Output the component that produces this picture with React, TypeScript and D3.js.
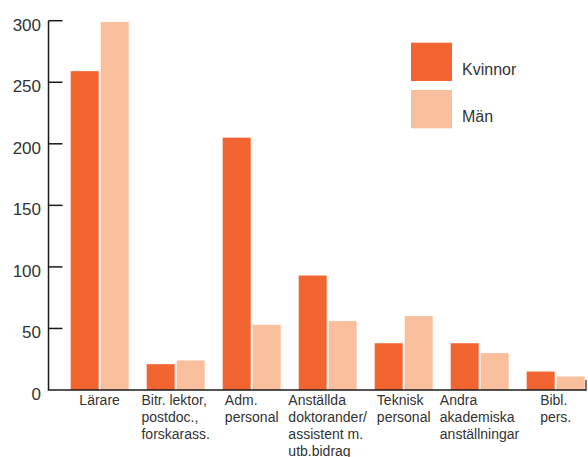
import React, { useRef, useEffect } from 'react';
import * as d3 from 'd3';

const categories = ['Lärare', 'Bitr', 'Adm', 'Anställda', 'Teknisk', 'Andra', 'Bibl'];
const categoryLabels = [
  ['Lärare'],
  ['Bitr. lektor,', 'postdoc.,', 'forskarass.'],
  ['Adm.', 'personal'],
  ['Anställda', 'doktorander/', 'assistent m.', 'utb.bidrag'],
  ['Teknisk', 'personal'],
  ['Andra', 'akademiska', 'anställningar'],
  ['Bibl.', 'pers.'],
];
const kvinnor = [259, 21, 205, 93, 38, 38, 15];
const man = [299, 24, 53, 56, 60, 30, 11];
const seriesNames = ['Kvinnor', 'Män'];
const yTicks = [0, 50, 100, 150, 200, 250, 300];

const COLORS = ['#f26531', '#f9be9c'];
const TEXT = '#333333';

const App: React.FC = () => {
  const svgRef = useRef<SVGSVGElement>(null);

  useEffect(() => {
    if (!svgRef.current) return;
    const svg = d3.select(svgRef.current);
    svg.selectAll('*').remove();

    const axisX = 48.5;
    const axisRight = 586;

    const y = d3.scaleLinear().domain([0, 300]).range([390, 20.7]);
    const x0 = d3.scaleBand<string>()
      .domain(categories)
      .range([70.7, 584.7])
      .paddingInner(18 / 76)
      .paddingOuter(0);
    const x1 = d3.scaleBand<string>()
      .domain(seriesNames)
      .range([0, x0.bandwidth()])
      .paddingInner(2 / 30)
      .paddingOuter(0);

    const data = categories.map((c, i) => ({ cat: c, values: [kvinnor[i], man[i]] }));

    // bars
    const groups = svg.append('g')
      .selectAll('g')
      .data(data)
      .join('g')
      .attr('transform', d => `translate(${x0(d.cat)},0)`);

    groups.selectAll('rect')
      .data(d => d.values.map((v, j) => ({ name: seriesNames[j], v, j })))
      .join('rect')
      .attr('x', d => x1(d.name)!)
      .attr('width', x1.bandwidth())
      .attr('y', d => y(d.v))
      .attr('height', d => y(0) - y(d.v))
      .attr('fill', d => COLORS[d.j]);

    // y axis
    svg.append('line')
      .attr('x1', axisX).attr('x2', axisX)
      .attr('y1', y(300)).attr('y2', y(0))
      .attr('stroke', '#1a1a1a').attr('stroke-width', 1.5);

    svg.append('g')
      .selectAll('line')
      .data(yTicks.filter(t => t > 0))
      .join('line')
      .attr('x1', axisX).attr('x2', 62.5)
      .attr('y1', d => y(d)).attr('y2', d => y(d))
      .attr('stroke', '#1a1a1a').attr('stroke-width', 1.5);

    svg.append('g')
      .selectAll('text')
      .data(yTicks)
      .join('text')
      .attr('x', 41)
      .attr('y', d => y(d) + 10)
      .attr('text-anchor', 'end')
      .attr('font-family', 'Liberation Sans, Arial, sans-serif')
      .attr('font-size', 17)
      .attr('fill', TEXT)
      .text(d => d);

    // baseline
    svg.append('line')
      .attr('x1', axisX - 0.75).attr('x2', axisRight)
      .attr('y1', y(0)).attr('y2', y(0))
      .attr('stroke', '#1a1a1a').attr('stroke-width', 1.5);
    svg.append('line')
      .attr('x1', axisRight).attr('x2', axisRight)
      .attr('y1', y(0) - 10).attr('y2', y(0) + 0.75)
      .attr('stroke', '#1a1a1a').attr('stroke-width', 1.2);

    // category labels
    categories.forEach((c, i) => {
      const center = x0(c)! + x0.bandwidth() / 2;
      const t = svg.append('text')
        .attr('font-family', 'Liberation Sans, Arial, sans-serif')
        .attr('font-size', 14)
        .attr('fill', TEXT);
      categoryLabels[i].forEach((line, k) => {
        t.append('tspan')
          .attr('x', 0)
          .attr('y', 405 + k * 17)
          .text(line);
      });
      const w = (t.node() as SVGTextElement).getBBox().width;
      t.attr('transform', `translate(${center - w / 2},0)`);
    });

    // legend
    const legend = svg.append('g');
    seriesNames.forEach((name, j) => {
      legend.append('rect')
        .attr('x', 411)
        .attr('y', 42.7 + j * 47.3)
        .attr('width', 41)
        .attr('height', 38.3)
        .attr('fill', COLORS[j]);
      legend.append('text')
        .attr('x', 462)
        .attr('y', 75 + j * 47)
        .attr('font-family', 'Liberation Sans, Arial, sans-serif')
        .attr('font-size', 16)
        .attr('fill', TEXT)
        .text(name);
    });
  }, []);

  return (
    <svg
      ref={svgRef}
      width={588}
      height={457}
      style={{ position: 'absolute', left: 0, top: 0, background: '#fff' }}
    />
  );
};

export default App;
